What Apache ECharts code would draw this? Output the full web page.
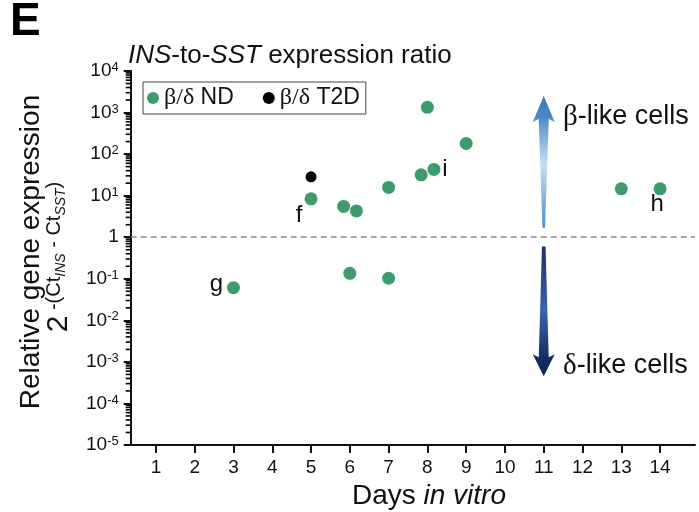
<!DOCTYPE html>
<html><head><meta charset="utf-8">
<script src="https://cdn.jsdelivr.net/npm/echarts@6/dist/echarts.min.js"></script>
<style>html,body{margin:0;padding:0;background:#fff}#c{width:699px;height:512px}</style>
</head><body><div id="c"></div>
<script>
// ---------- data ----------
const dayTicks = [1, 2, 3, 4, 5, 6, 7, 8, 9, 10, 11, 12, 13, 14];
const ndDays   = [3, 5, 5.84, 6.17, 6, 7, 7, 7.84, 8.17, 8, 9, 13, 14];
const ndRatio  = [0.061, 8.4, 5.5, 4.3, 0.135, 15.8, 0.103, 31.7, 42.8, 1334, 180, 14.6, 14.6];
const ndPointLabels = ['g', 'f', '', '', '', '', '', '', 'i', '', '', '', 'h'];
const t2dDays  = [5];
const t2dRatio = [28.5];
const referenceRatio = 1;
const arrowDay = 11;
const betaArrow  = [1.7, 2500];    // from, to (ratio)
const deltaArrow = [0.6, 4.5e-4];  // from, to (ratio)
const seriesNames = ['β/δ ND', 'β/δ T2D'];
const xMin = 0.35, xMax = 14.9, yMin = 1e-5, yMax = 1e4;

// ---------- styles ----------
const FONT = 'Liberation Sans, Arial, sans-serif';
const SERIF = 'Liberation Serif, Times New Roman, serif';
const INK = '#111';
const GREEN = '#3d9b6e';
const GRID = { left: 130.7, right: 4, top: 71, bottom: 67 };
const labelOffsets = { f: [-12, 17], g: [-17, -3], i: [11, 0], h: [-3, 16] };
const arrowStyles = [
  { tailHalf: 1.3, neckHalf: 5, headHalf: 11, headLen: 26,
    stops: [[0, '#3a78bc'], [0.15, '#4a88c6'], [0.52, '#c6def4'], [1, '#4f8fce']] },
  { tailHalf: 1.8, neckHalf: 5, headHalf: 11, headLen: 22,
    stops: [[0, '#1b3160'], [0.5, '#3c65a8'], [0.85, '#142e66'], [1, '#0d2455']] }
];
// minor (log) tick values on the y axis: 2..9 × 10^n
const minorTickValues = [];
for (let n = -5; n < 4; n++) for (let k = 2; k <= 9; k++) minorTickValues.push(k * Math.pow(10, n));

const chart = echarts.init(document.getElementById('c'));

const ndData = ndDays.map((d, i) => {
  const lab = ndPointLabels[i];
  const item = { value: [d, ndRatio[i]] };
  if (lab) item.label = { show: true, formatter: lab, position: 'inside', offset: labelOffsets[lab],
    fontSize: 24, fontFamily: FONT, color: INK, textBorderWidth: 0 };
  return item;
});
const t2dData = t2dDays.map((d, i) => [d, t2dRatio[i]]);
const arrowData = [[arrowDay, betaArrow[0], betaArrow[1]], [arrowDay, deltaArrow[0], deltaArrow[1]]];

const option = {
  animation: false,
  backgroundColor: '#fff',
  textStyle: { fontFamily: FONT },
  grid: GRID,
  legend: {
    data: seriesNames, left: 143, top: 82, orient: 'horizontal', icon: 'circle',
    itemWidth: 12, itemHeight: 12, itemGap: 29, padding: [4, 6, 4, 4],
    borderColor: '#444', borderWidth: 1, selectedMode: false,
    formatter: n => '{g|β/δ} ' + n.split(' ')[1],
    textStyle: { fontSize: 23, color: INK, fontFamily: FONT,
      rich: { g: { fontFamily: SERIF, fontSize: 24, color: INK } } }
  },
  xAxis: {
    type: 'value', min: xMin, max: xMax,
    axisLine: { onZero: false, lineStyle: { color: INK, width: 2 } },
    axisTick: { show: true, customValues: dayTicks, length: 8, lineStyle: { color: INK, width: 2 } },
    axisLabel: { customValues: dayTicks, margin: 13, fontSize: 19, color: INK, fontFamily: FONT },
    splitLine: { show: false }
  },
  yAxis: {
    type: 'log', logBase: 10, min: yMin, max: yMax, interval: 1,
    axisLine: { show: true, lineStyle: { color: INK, width: 2 } },
    axisTick: { show: true, length: 7, lineStyle: { color: INK, width: 2 } },
    splitLine: { show: false },
    axisLabel: {
      margin: 12, color: INK,
      formatter: v => { const e = Math.round(Math.log10(v)); return e === 0 ? '{b|1}' : '{b|10}{s|' + e + '}'; },
      rich: { b: { fontSize: 19, fontFamily: FONT, color: INK, lineHeight: 20 },
              s: { fontSize: 13, fontFamily: FONT, color: INK, verticalAlign: 'top' } }
    }
  },
  series: [
    {
      type: 'custom', name: 'arrows', coordinateSystem: 'cartesian2d', silent: true, z: 1,
      encode: { x: 0, y: [1, 2] },
      data: arrowData,
      renderItem: (params, api) => {
        const p0 = api.coord([api.value(0), api.value(1)]);
        const p1 = api.coord([api.value(0), api.value(2)]);
        const st = arrowStyles[params.dataIndex];
        const cx = p0[0], base = p0[1], tip = p1[1];
        const dir = tip < base ? -1 : 1;
        const hb = tip - dir * st.headLen;
        const neck = hb + dir * 3;
        const pts = [[cx - st.tailHalf, base], [cx - st.neckHalf, neck], [cx - st.headHalf, hb], [cx, tip],
                     [cx + st.headHalf, hb], [cx + st.neckHalf, neck], [cx + st.tailHalf, base]];
        return { type: 'polygon', shape: { points: pts },
          style: { fill: { type: 'linear', x: 0, y: 0, x2: 0, y2: 1,
            colorStops: st.stops.map(s => ({ offset: s[0], color: s[1] })) } } };
      }
    },
    {
      type: 'scatter', name: seriesNames[0], data: ndData, symbol: 'circle', symbolSize: 13,
      itemStyle: { color: GREEN, opacity: 1 }, z: 3,
      markLine: {
        silent: true, symbol: ['none', 'none'], label: { show: false },
        lineStyle: { type: [6, 4], color: '#8a8a8a', width: 1.5 },
        data: [{ yAxis: referenceRatio }]
      }
    },
    {
      type: 'scatter', name: seriesNames[1], data: t2dData, symbol: 'circle', symbolSize: 11,
      itemStyle: { color: '#000', opacity: 1 }, z: 3
    }
  ]
};
chart.setOption(option);

const textGraphics = [
  { type: 'text', id: 'E', x: 10, y: 22, style: { text: 'E', font: 'bold 46px ' + FONT, fill: '#000',
    align: 'left', verticalAlign: 'middle' } },
  { type: 'text', id: 'title', x: 128, y: 56, style: { text: '{i|INS}-to-{i|SST} expression ratio',
    fontSize: 26, fontFamily: FONT, fill: INK, align: 'left', verticalAlign: 'middle',
    rich: { i: { fontStyle: 'italic', fontSize: 26, fontFamily: FONT, fill: INK } } } },
  { type: 'text', id: 'yname', x: 31, y: 252, rotation: Math.PI / 2, style: { text: 'Relative gene expression',
    fontSize: 28, fontFamily: FONT, fill: INK, align: 'center', verticalAlign: 'middle' } },
  { type: 'text', id: 'yname2', x: 59, y: 257, rotation: Math.PI / 2, style: {
    text: '{two|2}{sup| -(Ct}{sub|INS}{sup| - Ct}{sub|SST}{sup|)}',
    fontFamily: FONT, fill: INK, align: 'center', verticalAlign: 'middle',
    rich: {
      two: { fontSize: 30, fontFamily: FONT, fill: INK, verticalAlign: 'bottom' },
      sup: { fontSize: 20, fontFamily: FONT, fill: INK, verticalAlign: 'top' },
      sub: { fontSize: 14, fontFamily: FONT, fill: INK, fontStyle: 'italic', verticalAlign: 'top', padding: [10, 0, 0, 0] }
    } } },
  { type: 'text', id: 'xname', x: 429, y: 496, style: { text: 'Days {i|in vitro}', fontSize: 28, fontFamily: FONT,
    fill: INK, align: 'center', verticalAlign: 'middle',
    rich: { i: { fontStyle: 'italic', fontSize: 28, fontFamily: FONT, fill: INK } } } },
  { type: 'text', id: 'beta', x: 563, y: 117, style: { text: '{g|β}-like cells', fontSize: 27, fontFamily: FONT,
    fill: INK, align: 'left', verticalAlign: 'middle', rich: { g: { fontFamily: SERIF, fontSize: 29, fill: INK } } } },
  { type: 'text', id: 'delta', x: 563, y: 366, style: { text: '{g|δ}-like cells', fontSize: 27, fontFamily: FONT,
    fill: INK, align: 'left', verticalAlign: 'middle', rich: { g: { fontFamily: SERIF, fontSize: 29, fill: INK } } } }
];

// minor log ticks: vertical position from the chart's own log y scale, at the y-axis line (grid left edge)
const minorGraphics = [];
minorTickValues.forEach((v, i) => {
  let py = chart.convertToPixel({ yAxisIndex: 0 }, v);
  if (Array.isArray(py)) py = py[1];
  if (typeof py !== 'number' || !isFinite(py)) {
    const p = chart.convertToPixel({ gridIndex: 0 }, [arrowDay, v]);
    py = p ? p[1] : NaN;
  }
  if (!isFinite(py)) return;
  minorGraphics.push({ type: 'rect', id: 'minor' + i, z: 10,
    shape: { x: GRID.left - 5, y: py - 0.8, width: 5.5, height: 1.6 },
    style: { fill: '#000' } });
});
chart.setOption({ graphic: textGraphics.concat(minorGraphics) });
</script></body></html>
